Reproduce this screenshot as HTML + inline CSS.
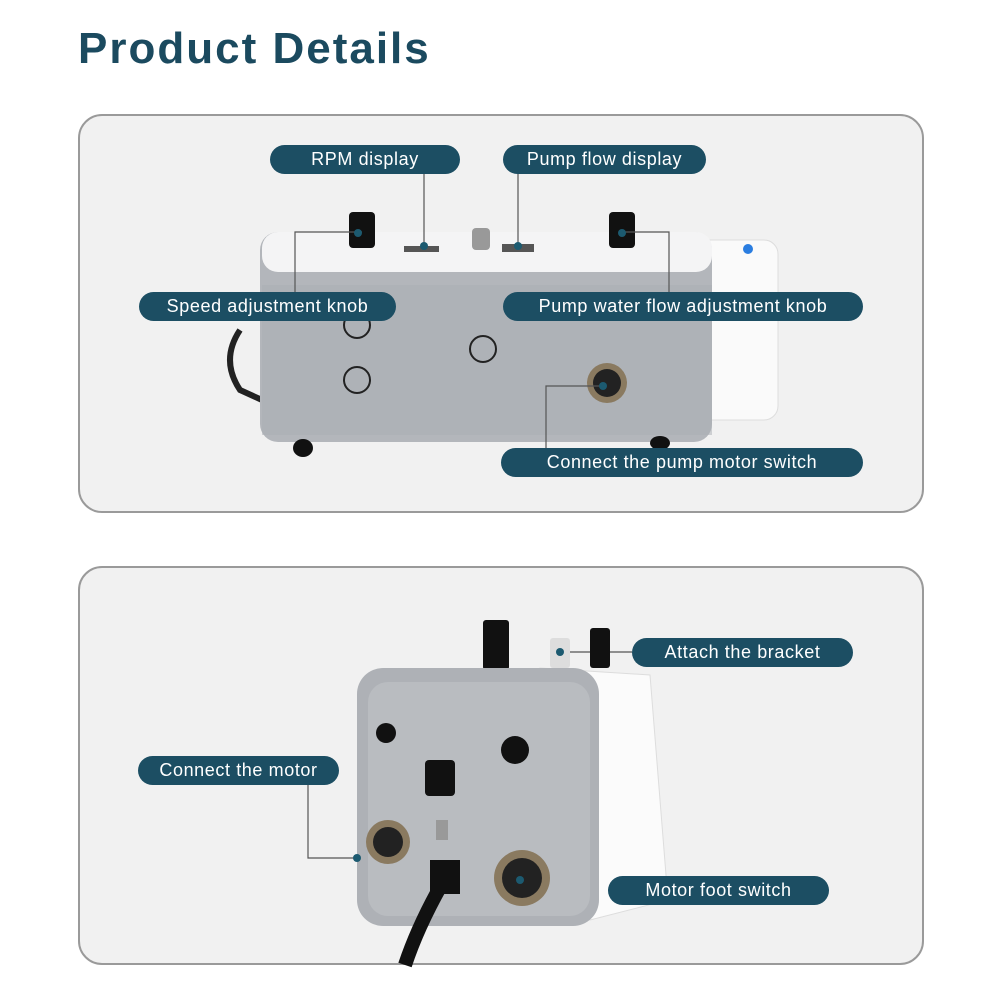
<!DOCTYPE html>
<html><head><style>
body{margin:0;width:1000px;height:1000px;background:#fff;position:relative;overflow:hidden;font-family:"Liberation Sans",sans-serif}
.t{position:absolute;left:78px;top:24px;font-size:44px;font-weight:bold;color:#1b4a5f;letter-spacing:2px}
.p{position:absolute;left:78px;width:842px;border:2px solid #9a9a9a;border-radius:24px;background:#f1f1f1}
.l{position:absolute;height:29px;line-height:29px;background:#1c4e63;color:#fff;border-radius:15px;text-align:center;font-size:18px;letter-spacing:.6px}
svg{position:absolute;left:0;top:0}
</style></head><body>
<div class="t">Product Details</div>
<div class="p" style="top:114px;height:395px"></div>
<div class="p" style="top:566px;height:395px"></div>
<svg width="1000" height="1000">
<path d="M240 330 Q220 360 240 390 L262 400" stroke="#222" stroke-width="6" fill="none"/>
<rect x="690" y="240" width="88" height="180" rx="14" fill="#fafafa" stroke="#ddd"/>
<rect x="260" y="232" width="452" height="210" rx="18" fill="#b3b6bb"/>
<rect x="262" y="232" width="450" height="40" rx="16" fill="#f4f4f5"/>
<rect x="262" y="285" width="450" height="150" fill="#a9adb3" opacity=".5"/>
<circle cx="357" cy="380" r="13" fill="none" stroke="#222" stroke-width="2"/>
<circle cx="357" cy="325" r="13" fill="none" stroke="#222" stroke-width="2"/>
<circle cx="483" cy="349" r="13" fill="none" stroke="#222" stroke-width="2"/>
<circle cx="607" cy="383" r="20" fill="#8a7a60"/><circle cx="607" cy="383" r="14" fill="#222"/>
<rect x="349" y="212" width="26" height="36" rx="4" fill="#111"/>
<rect x="609" y="212" width="26" height="36" rx="4" fill="#111"/>
<rect x="472" y="228" width="18" height="22" rx="4" fill="#999"/>
<rect x="404" y="246" width="35" height="6" fill="#555"/><rect x="502" y="244" width="32" height="8" fill="#555"/>
<ellipse cx="303" cy="448" rx="10" ry="9" fill="#111"/><ellipse cx="660" cy="443" rx="10" ry="7" fill="#111"/>
<circle cx="748" cy="249" r="5" fill="#2a7de0"/>
<g stroke="#555" stroke-width="1.2" fill="none">
<path d="M424 174V246"/><path d="M518 174V246"/>
<path d="M362 232H295V292"/><path d="M622 232H669V292"/>
<path d="M603 386H546V448"/>
<path d="M357 858H308V785"/><path d="M520 880H602"/><path d="M560 652H632"/>
</g>
<g fill="#1c5a70"><circle cx="424" cy="246" r="4"/><circle cx="518" cy="246" r="4"/><circle cx="358" cy="233" r="4"/><circle cx="622" cy="233" r="4"/><circle cx="603" cy="386" r="4"/></g>
<rect x="483" y="620" width="26" height="50" rx="3" fill="#111"/>
<rect x="550" y="638" width="20" height="30" rx="3" fill="#ddd"/>
<rect x="590" y="628" width="20" height="40" rx="3" fill="#111"/>
<path d="M540 668 L650 675 L668 900 L590 920 Z" fill="#fbfbfb" stroke="#ddd"/>
<rect x="357" y="668" width="242" height="258" rx="26" fill="#aeb1b6"/>
<rect x="368" y="682" width="222" height="234" rx="20" fill="#b9bcc0"/>
<circle cx="386" cy="733" r="10" fill="#111"/><circle cx="515" cy="750" r="14" fill="#111"/>
<rect x="425" y="760" width="30" height="36" rx="4" fill="#111"/>
<rect x="436" y="820" width="12" height="20" fill="#999"/>
<circle cx="388" cy="842" r="22" fill="#8a7a60"/><circle cx="388" cy="842" r="15" fill="#222"/>
<circle cx="522" cy="878" r="28" fill="#8a7a60"/><circle cx="522" cy="878" r="20" fill="#222"/>
<path d="M450 870 Q420 920 405 965" stroke="#111" stroke-width="14" fill="none"/>
<rect x="430" y="860" width="30" height="34" fill="#111"/>
<g fill="#1c5a70"><circle cx="560" cy="652" r="4"/><circle cx="357" cy="858" r="4"/><circle cx="520" cy="880" r="4"/></g>
</svg>
<div class="l" style="left:270px;top:145px;width:190px">RPM display</div>
<div class="l" style="left:503px;top:145px;width:203px">Pump flow display</div>
<div class="l" style="left:139px;top:292px;width:257px">Speed adjustment knob</div>
<div class="l" style="left:503px;top:292px;width:360px">Pump water flow adjustment knob</div>
<div class="l" style="left:501px;top:448px;width:362px">Connect the pump motor switch</div>
<div class="l" style="left:632px;top:638px;width:221px">Attach the bracket</div>
<div class="l" style="left:138px;top:756px;width:201px">Connect the motor</div>
<div class="l" style="left:608px;top:876px;width:221px">Motor foot switch</div>
</body></html>
